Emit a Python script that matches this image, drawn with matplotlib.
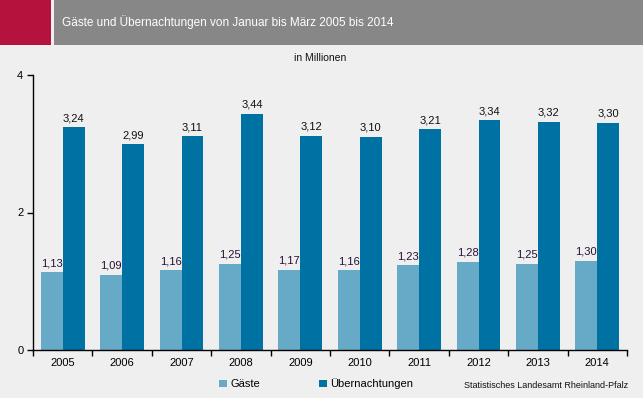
import matplotlib
matplotlib.use("Agg")
import matplotlib.pyplot as plt
from matplotlib.patches import Rectangle, Patch

plt.rcParams['font.family'] = ['Liberation Sans', 'DejaVu Sans']

years = ["2005", "2006", "2007", "2008", "2009", "2010", "2011", "2012", "2013", "2014"]
gaeste = [1.13, 1.09, 1.16, 1.25, 1.17, 1.16, 1.23, 1.28, 1.25, 1.30]
uebernachtungen = [3.24, 2.99, 3.11, 3.44, 3.12, 3.10, 3.21, 3.34, 3.32, 3.30]
series_names = ["Gäste", "Übernachtungen"]
title = "Gäste und Übernachtungen von Januar bis März 2005 bis 2014"
unit = "in Millionen"
source = "Statistisches Landesamt Rheinland-Pfalz"

bg = '#eeefee'
c_light = '#66aac8'
c_dark = '#0071a3'

W, H = 643, 398
fig = plt.figure(figsize=(W / 100, H / 100), dpi=100, facecolor=bg)

# header
fig.patches.append(Rectangle((0, 1 - 45 / H), 51 / W, 45 / H, transform=fig.transFigure,
                             facecolor='#b5123e', edgecolor='none'))
fig.patches.append(Rectangle((54 / W, 1 - 45 / H), 1 - 54 / W, 45 / H, transform=fig.transFigure,
                             facecolor='#878787', edgecolor='none'))
fig.text(62 / W, 1 - 22 / H, title, color='white', fontsize=8.5, va='center', ha='left')
fig.text(320 / W, 1 - 58 / H, unit, color='#111111', fontsize=7.5, va='center', ha='center')

ax = fig.add_axes([33 / W, 1 - 350 / H, (627 - 33) / W, (350 - 75) / H])
ax.set_facecolor(bg)
x = list(range(len(years)))
bw = 0.37
b1 = ax.bar([i - bw / 2 for i in x], gaeste, width=bw, color=c_light, label=series_names[0])
b2 = ax.bar([i + bw / 2 for i in x], uebernachtungen, width=bw, color=c_dark, label=series_names[1])
for rect, v in zip(b1, gaeste):
    ax.text(rect.get_x() + rect.get_width() / 2, v + 0.06, f"{v:.2f}".replace('.', ','),
            ha='center', va='bottom', fontsize=8, color='#2a1035')
for rect, v in zip(b2, uebernachtungen):
    ax.text(rect.get_x() + rect.get_width() / 2, v + 0.06, f"{v:.2f}".replace('.', ','),
            ha='center', va='bottom', fontsize=8, color='#111111')

ax.set_xlim(-0.5, len(years) - 0.5)
ax.set_ylim(0, 4)
ax.set_yticks([0, 2, 4])
ax.set_yticklabels(["0", "2", "4"], fontsize=8)
ax.set_xticks([i + 0.5 for i in range(-1, len(years))])
ax.set_xticklabels([])
ax.set_xticks(x, minor=True)
ax.set_xticklabels(years, minor=True, fontsize=8)
ax.tick_params(axis='x', which='minor', length=0, pad=6)
ax.tick_params(axis='x', which='major', length=4, width=1, direction='out')
ax.tick_params(axis='y', length=4, width=1, direction='out', pad=3)
for s in ['top', 'right']:
    ax.spines[s].set_visible(False)
for s in ['left', 'bottom']:
    ax.spines[s].set_color('black')
    ax.spines[s].set_linewidth(1)

handles = [Patch(facecolor=c_light), Patch(facecolor=c_dark)]
fig.legend(handles, series_names, loc='center', bbox_to_anchor=(316 / W, 1 - 384 / H), ncol=2,
           frameon=False, fontsize=8, handlelength=0.7, handleheight=0.7, handletextpad=0.3,
           columnspacing=5.3)
fig.text(628 / W, 1 - 386 / H, source, ha='right', va='center', fontsize=6.5, color='#111111')

fig.savefig('out.png', dpi=100, facecolor=bg)
